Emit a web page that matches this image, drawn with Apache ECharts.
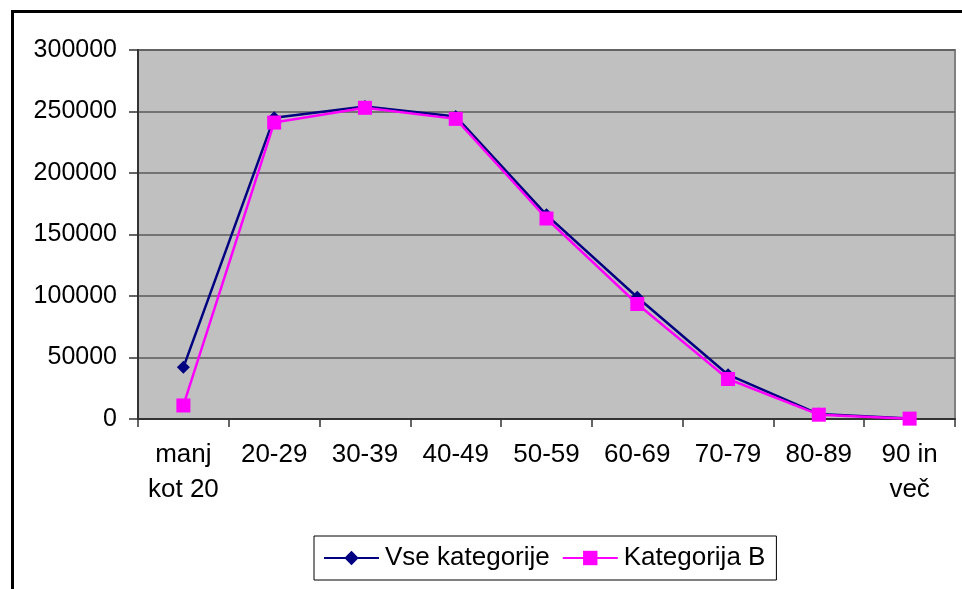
<!DOCTYPE html>
<html>
<head>
<meta charset="utf-8">
<script src="https://cdn.jsdelivr.net/npm/echarts@6/dist/echarts.min.js"></script>
<style>html,body{margin:0;padding:0;background:#fff;}#c{width:962px;height:589px;}</style>
</head>
<body>
<div id="c"></div>
<script>
var categories = ['manj\nkot 20', '20-29', '30-39', '40-49', '50-59', '60-69', '70-79', '80-89', '90 in\nveč'];
var vseKategorije = [42000, 245000, 254000, 246000, 166000, 99000, 36000, 4000, 500];
var kategorijaB = [11000, 241000, 253000, 244000, 163000, 93500, 32500, 3500, 300];
var yTicks = [0, 50000, 100000, 150000, 200000, 250000, 300000];

var FONT = '"Liberation Sans", Arial, sans-serif';
var chart = echarts.init(document.getElementById('c'), null, {renderer: 'canvas'});
chart.setOption({
  animation: false,
  backgroundColor: '#fff',
  textStyle: {fontFamily: FONT},
  graphic: [{
    type: 'rect', left: 10, top: 9, z: 100,
    shape: {x: 0, y: 0, width: 1000, height: 700},
    style: {fill: 'none', stroke: '#000', lineWidth: 3}
  }],
  grid: {
    left: 138, top: 50, right: 7, bottom: 170,
    show: true, backgroundColor: '#C0C0C0', borderColor: '#808080', borderWidth: 2
  },
  legend: {
    left: 314, top: 536,
    orient: 'horizontal',
    itemWidth: 55, itemHeight: 18, itemGap: 12,
    padding: [9, 11, 9, 9],
    borderColor: '#000', borderWidth: 1,
    backgroundColor: '#fff',
    textStyle: {fontSize: 26, color: '#000', fontFamily: FONT, padding: [0, 0, 0, 1]},
    data: ['Vse kategorije', 'Kategorija B']
  },
  xAxis: {
    type: 'category',
    data: categories,
    boundaryGap: true,
    axisLine: {lineStyle: {color: '#333', width: 2}},
    axisTick: {show: true, length: 8, lineStyle: {color: '#333', width: 1.5}},
    axisLabel: {fontSize: 26, color: '#000', lineHeight: 35, margin: 18, interval: 0, fontFamily: FONT},
    splitLine: {show: false}
  },
  yAxis: {
    type: 'value',
    min: yTicks[0], max: yTicks[yTicks.length - 1], interval: 50000,
    axisLine: {show: true, lineStyle: {color: '#333', width: 2}},
    axisTick: {show: true, length: 9, lineStyle: {color: '#333', width: 1.5}},
    axisLabel: {fontSize: 25, color: '#000', margin: 21, fontFamily: FONT,
      formatter: function (v) { return String(v); }},
    splitLine: {show: true, lineStyle: {color: '#5a5a5a', width: 1.5}}
  },
  series: [
    {
      name: 'Vse kategorije', type: 'line', data: vseKategorije,
      symbol: 'diamond', symbolSize: 13,
      lineStyle: {color: '#000080', width: 2.5},
      itemStyle: {color: '#000080'}
    },
    {
      name: 'Kategorija B', type: 'line', data: kategorijaB,
      symbol: 'rect', symbolSize: 14,
      lineStyle: {color: '#FF00FF', width: 2.5},
      itemStyle: {color: '#FF00FF'}
    }
  ]
});
</script>
</body>
</html>
